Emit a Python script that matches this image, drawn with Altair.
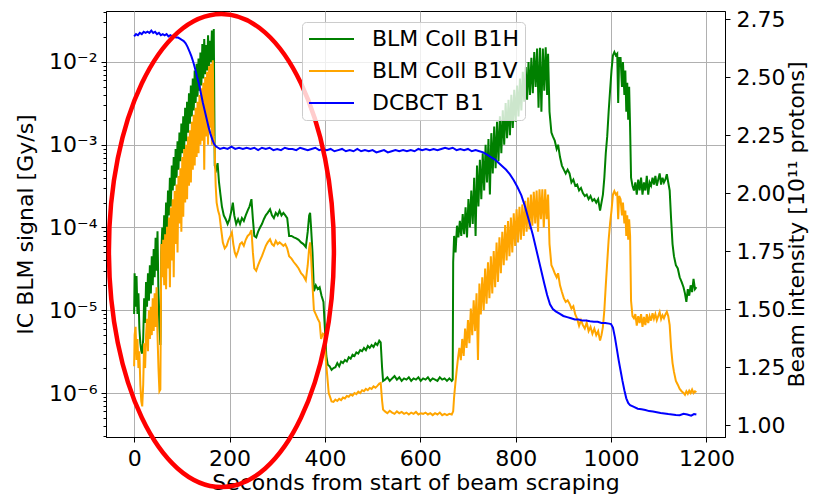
import altair as alt
import pandas as pd

FONT = "DejaVu Sans"

series_names = ["BLM Coll B1H", "BLM Coll B1V", "DCBCT B1"]
series_colors = ["#008000", "#ffa500", "#0000ff"]

x_ticks = [0, 200, 400, 600, 800, 1000, 1200]
left_major = [1e-6, 1e-5, 1e-4, 1e-3, 1e-2]
right_ticks = [1.00, 1.25, 1.50, 1.75, 2.00, 2.25, 2.50, 2.75]

x_domain = [-59, 1239]
left_domain = [2.94e-7, 4.13e-2]
right_domain = [0.9483, 2.7845]

# BLM Coll B1H  (time [s], signal [Gy/s])
blm_h = [
    (0, 9.0e-6), (1, 2.8e-5), (3, 1.1e-5), (5, 2.6e-5), (7, 9e-6), (9, 1.6e-5), (11, 6e-6), (13, 4e-6),
    (15, 3.2e-6), (17, 3.0e-6), (19, 4.5e-6), (21, 1.4e-5), (23, 7e-6), (25, 2.2e-5), (27, 1.1e-5),
    (29, 2.8e-5), (31, 1.3e-5), (33, 3.5e-5), (35, 1.6e-5), (37, 4.5e-5), (39, 2.0e-5), (41, 5.5e-5),
    (43, 2.5e-5), (45, 7.5e-5), (47, 3.0e-5), (49, 9e-5), (51, 1.5e-5), (53, 6e-6), (55, 3.8e-6),
    (57, 5.0e-5), (59, 1.0e-4), (61, 5.6e-5), (63, 1.4e-4), (65, 7.1e-5), (67, 2.0e-4), (69, 8.9e-5),
    (71, 2.8e-4), (73, 1.4e-4), (75, 4.0e-4), (77, 1.8e-4), (79, 5.6e-4), (81, 2.8e-4), (83, 7.1e-4),
    (85, 3.2e-4), (87, 8.9e-4), (89, 4.0e-4), (91, 1.1e-3), (93, 5.0e-4), (95, 1.4e-3), (97, 6.3e-4),
    (99, 1.8e-3), (101, 7.9e-4), (103, 2.2e-3), (105, 8.9e-4), (107, 2.8e-3), (109, 1.1e-3),
    (111, 3.3e-3), (113, 1.4e-3), (115, 4.2e-3), (117, 1.8e-3), (119, 5.2e-3), (121, 2.2e-3),
    (123, 6.3e-3), (125, 2.6e-3), (127, 7.9e-3), (129, 3.2e-3), (131, 9.5e-3), (133, 3.8e-3),
    (135, 1.1e-2), (137, 4.5e-3), (139, 1.3e-2), (141, 5.2e-3), (143, 1.65e-2), (145, 6.3e-3),
    (147, 1.9e-2), (149, 7.1e-3), (151, 1.6e-2), (153, 7.9e-3), (155, 2.1e-2), (157, 8.9e-3),
    (159, 1.8e-2), (161, 1.0e-2), (163, 2.4e-2), (165, 9.5e-3), (167, 2.5e-2),
    (169, 5.6e-4), (172, 5.0e-4), (175, 6.0e-4), (178, 3.5e-4), (181, 2.5e-4), (184, 1.8e-4),
    (188, 1.4e-4), (192, 1.26e-4), (196, 1.1e-4), (200, 1.26e-4), (204, 1.6e-4), (207, 2.0e-4),
    (210, 1.4e-4), (214, 1.1e-4), (218, 1.26e-4), (222, 1.1e-4), (226, 1.3e-4), (230, 1.2e-4),
    (234, 1.4e-4), (238, 1.6e-4), (242, 1.8e-4), (246, 2.2e-4), (249, 1.26e-4), (252, 7.9e-5),
    (256, 7.6e-5), (260, 8.9e-5), (264, 1.0e-4), (268, 1.1e-4), (272, 1.26e-4), (276, 1.4e-4),
    (280, 1.5e-4), (285, 1.66e-4), (289, 1.4e-4), (293, 1.3e-4), (297, 1.5e-4), (301, 1.4e-4),
    (305, 1.6e-4), (309, 1.4e-4), (313, 1.5e-4), (317, 1.4e-4), (321, 1.3e-4), (325, 7.9e-5),
    (330, 7.9e-5), (335, 7.6e-5), (340, 7.4e-5), (345, 7.1e-5), (350, 6.6e-5), (355, 6.3e-5),
    (360, 5.8e-5), (364, 8.9e-5), (367, 1.4e-4), (369, 1.5e-4), (371, 1.0e-4), (374, 5.0e-5),
    (377, 1.7e-5), (381, 2.0e-5), (385, 1.8e-5), (389, 1.9e-5), (393, 1.5e-5), (397, 1.26e-5),
    (400, 6.0e-6), (403, 2.8e-6), (406, 2.2e-6), (410, 2.1e-6), (414, 1.9e-6), (418, 2.0e-6),
    (422, 2.05e-6), (426, 2.3e-6), (430, 2.1e-6), (434, 2.4e-6), (438, 2.3e-6), (442, 2.5e-6),
    (446, 2.4e-6), (450, 2.7e-6), (454, 2.6e-6), (458, 2.9e-6), (462, 2.8e-6), (466, 3.1e-6),
    (470, 3.0e-6), (474, 3.3e-6), (478, 3.2e-6), (482, 3.5e-6), (486, 3.3e-6), (490, 3.7e-6),
    (494, 3.5e-6), (498, 3.8e-6), (502, 3.6e-6), (506, 4.0e-6), (510, 3.8e-6), (514, 4.3e-6),
    (517, 4.1e-6), (520, 2.0e-6), (522, 1.4e-6),
    (526, 1.45e-6), (531, 1.55e-6), (536, 1.4e-6), (541, 1.5e-6), (546, 1.6e-6), (551, 1.45e-6),
    (556, 1.55e-6), (561, 1.4e-6), (566, 1.5e-6), (571, 1.45e-6), (576, 1.55e-6), (581, 1.4e-6),
    (586, 1.5e-6), (591, 1.45e-6), (596, 1.55e-6), (601, 1.4e-6), (606, 1.5e-6), (611, 1.45e-6),
    (616, 1.55e-6), (621, 1.4e-6), (626, 1.5e-6), (631, 1.45e-6), (636, 1.4e-6), (641, 1.55e-6),
    (646, 1.45e-6), (651, 1.5e-6), (656, 1.4e-6), (661, 1.5e-6), (666, 1.4e-6), (668, 1.45e-6),
    (669, 3.8e-5), (671, 7.9e-5), (674, 5.0e-5), (677, 1.05e-4), (680, 7.6e-5), (683, 1.2e-4),
    (686, 7.9e-5), (689, 1.45e-4), (692, 8.3e-5), (695, 1.75e-4), (698, 7.6e-5), (701, 2.2e-4),
    (704, 1.0e-4), (707, 2.8e-4), (710, 1.1e-4), (713, 4.0e-4), (716, 7.9e-5), (719, 5.6e-4),
    (722, 1.8e-4), (725, 6.6e-4), (728, 2.2e-4), (731, 7.9e-4), (734, 2.8e-4), (737, 1.0e-3),
    (740, 3.5e-4), (743, 1.17e-3), (746, 2.5e-4), (749, 1.38e-3), (752, 4.5e-4), (755, 1.66e-3),
    (758, 5.2e-4), (761, 1.9e-3), (764, 6.3e-4), (767, 2.2e-3), (770, 7.9e-4), (773, 2.6e-3),
    (776, 1.0e-3), (779, 3.2e-3), (782, 1.2e-3), (785, 3.5e-3), (788, 1.3e-3), (791, 4.0e-3),
    (794, 1.6e-3), (797, 4.6e-3), (800, 1.9e-3), (803, 5.2e-3), (806, 2.2e-3), (809, 6.3e-3),
    (812, 2.6e-3), (815, 7.6e-3), (818, 3.3e-3), (821, 8.7e-3), (824, 3.5e-3), (827, 1.0e-2),
    (830, 4.0e-3), (833, 1.12e-2), (836, 4.2e-3), (839, 1.32e-2), (842, 5.0e-3), (845, 1.45e-2),
    (848, 2.8e-3), (851, 1.48e-2), (854, 2.5e-3), (857, 1.45e-2), (860, 4.5e-3), (863, 1.5e-2),
    (866, 4.0e-3), (868, 1.26e-2),
    (871, 2.5e-3), (875, 1.4e-3), (878, 1.26e-3), (882, 1.12e-3), (886, 8.9e-4), (889, 1.0e-3),
    (893, 7.1e-4), (897, 5.6e-4), (901, 5.0e-4), (905, 4.5e-4), (909, 5.0e-4), (913, 4.5e-4),
    (917, 3.5e-4), (921, 3.8e-4), (925, 3.2e-4), (929, 3.3e-4), (933, 2.8e-4), (937, 3.0e-4),
    (941, 2.6e-4), (945, 2.4e-4), (949, 2.5e-4), (953, 2.2e-4), (957, 2.4e-4), (961, 2.1e-4),
    (965, 2.2e-4), (969, 2.0e-4), (973, 2.2e-4), (977, 1.6e-4), (980, 2.0e-4), (983, 2.5e-4),
    (986, 4.0e-4), (989, 7.9e-4), (992, 1.26e-3), (995, 2.5e-3), (998, 4.5e-3), (1001, 7.9e-3),
    (1004, 1.2e-2), (1007, 1.32e-2), (1010, 1.2e-2), (1013, 1.26e-2), (1015, 3.2e-3), (1017, 1.12e-2),
    (1020, 1.12e-2), (1023, 5.0e-3), (1025, 1.0e-2), (1028, 4.0e-3), (1030, 7.9e-3), (1032, 2.5e-3),
    (1034, 5.6e-3), (1036, 2.0e-3), (1038, 5.0e-3), (1040, 1.6e-3), (1042, 4.0e-4), (1045, 3.2e-4),
    (1048, 2.8e-4), (1051, 3.5e-4), (1054, 2.5e-4), (1057, 3.8e-4), (1060, 2.8e-4), (1063, 4.0e-4),
    (1066, 2.5e-4), (1069, 3.5e-4), (1072, 2.8e-4), (1075, 4.2e-4), (1078, 2.5e-4), (1081, 3.5e-4),
    (1084, 3.2e-4), (1087, 4.0e-4), (1090, 3.3e-4), (1093, 4.2e-4), (1096, 3.2e-4), (1099, 3.8e-4),
    (1102, 4.5e-4), (1105, 3.3e-4), (1108, 4.0e-4), (1111, 3.5e-4), (1114, 3.8e-4), (1117, 4.4e-4),
    (1120, 3.5e-4), (1123, 2.8e-4), (1126, 1.26e-4), (1129, 6.3e-5), (1132, 4.5e-5), (1136, 3.5e-5),
    (1140, 3.2e-5), (1144, 2.5e-5), (1148, 2.2e-5), (1152, 1.9e-5), (1155, 1.6e-5), (1158, 1.26e-5),
    (1161, 1.8e-5), (1164, 1.5e-5), (1167, 2.0e-5), (1170, 1.66e-5), (1173, 2.4e-5), (1176, 1.8e-5),
    (1179, 1.9e-5),
]

# BLM Coll B1V  (time [s], signal [Gy/s])
blm_v = [
    (0, 2.1e-6), (1, 5.0e-6), (3, 6.3e-6), (5, 2.5e-6), (7, 4.5e-6), (9, 2.0e-6), (11, 3.2e-6),
    (13, 1.26e-6), (15, 7.9e-7), (17, 6.9e-7), (19, 1.26e-6), (21, 4.0e-6), (23, 2.0e-6), (25, 5.0e-6),
    (27, 7.9e-6), (29, 3.2e-6), (31, 1.0e-5), (33, 4.5e-6), (35, 1.1e-5), (37, 5.0e-6), (39, 1.4e-5),
    (41, 5.6e-6), (43, 1.6e-5), (45, 6.3e-6), (47, 1.9e-5), (49, 5.0e-6), (51, 2.0e-6), (53, 1.05e-6),
    (55, 1.1e-6),
    (57, 6.3e-5), (59, 2.5e-5), (61, 7.1e-5), (63, 2.0e-5), (65, 8.3e-5), (67, 1.8e-5), (69, 1.02e-4),
    (71, 3.2e-5), (73, 1.32e-4), (75, 1.9e-5), (77, 1.74e-4), (79, 4.0e-5), (81, 2.2e-4), (83, 2.5e-5),
    (85, 2.75e-4), (87, 6.3e-5), (89, 3.3e-4), (91, 5.0e-5), (93, 4.2e-4), (95, 1.12e-4), (97, 5.2e-4),
    (99, 8.9e-5), (101, 7.1e-4), (103, 1.35e-4), (105, 8.9e-4), (107, 2.0e-4), (109, 1.0e-3),
    (111, 2.2e-4), (113, 1.26e-3), (115, 3.2e-4), (117, 1.5e-3), (119, 3.5e-4), (121, 1.9e-3),
    (123, 5.0e-4), (125, 2.3e-3), (127, 5.6e-4), (129, 2.8e-3), (131, 7.1e-4), (133, 3.3e-3),
    (135, 7.9e-4), (137, 4.0e-3), (139, 1.0e-3), (141, 4.8e-3), (143, 1.12e-3), (145, 5.6e-3),
    (147, 5.0e-4), (149, 6.6e-3), (151, 1.26e-3), (153, 7.6e-3), (155, 1.0e-3), (157, 8.9e-3),
    (159, 1.6e-3), (161, 9.5e-3), (163, 1.0e-3), (165, 1.05e-2), (167, 1.26e-3), (169, 8.7e-4),
    (171, 3.2e-4), (173, 2.0e-4), (176, 1.6e-4), (179, 1.4e-4), (182, 1.0e-4), (186, 6.6e-5),
    (190, 5.6e-5), (194, 6.0e-5), (198, 7.1e-5), (202, 7.9e-5), (205, 8.7e-5), (208, 6.3e-5),
    (211, 5.0e-5), (214, 4.5e-5), (218, 5.2e-5), (222, 6.3e-5), (226, 6.6e-5), (230, 6.0e-5),
    (234, 7.1e-5), (238, 7.9e-5), (242, 8.3e-5), (246, 9.3e-5), (249, 5.0e-5), (252, 3.2e-5),
    (256, 3.0e-5), (260, 3.5e-5), (264, 4.0e-5), (268, 4.5e-5), (272, 5.2e-5), (276, 6.0e-5),
    (280, 6.6e-5), (285, 7.2e-5), (289, 6.3e-5), (293, 6.0e-5), (297, 6.9e-5), (301, 6.3e-5),
    (305, 6.6e-5), (309, 6.3e-5), (313, 6.0e-5), (317, 6.3e-5), (321, 5.6e-5), (325, 4.5e-5),
    (330, 4.2e-5), (335, 3.8e-5), (340, 3.5e-5), (345, 3.2e-5), (350, 2.8e-5), (355, 2.6e-5),
    (360, 2.3e-5), (364, 3.5e-5), (367, 5.6e-5), (369, 6.6e-5), (371, 4.5e-5), (374, 2.0e-5),
    (377, 1.0e-5), (381, 8.9e-6), (385, 7.9e-6), (389, 7.1e-6), (392, 4.5e-6), (396, 5.2e-6),
    (399, 5.0e-6), (402, 2.5e-6), (405, 1.6e-6), (408, 1.0e-6), (411, 8.9e-7), (414, 7.9e-7),
    (418, 7.8e-7), (422, 8.3e-7), (426, 8.0e-7), (430, 8.5e-7), (434, 8.2e-7), (438, 8.8e-7),
    (442, 8.6e-7), (446, 9.2e-7), (450, 9.0e-7), (454, 9.6e-7), (458, 9.3e-7), (462, 1.0e-6),
    (466, 9.7e-7), (470, 1.04e-6), (474, 1.0e-6), (478, 1.08e-6), (482, 1.05e-6), (486, 1.12e-6),
    (490, 1.08e-6), (494, 1.15e-6), (498, 1.12e-6), (502, 1.2e-6), (506, 1.16e-6), (510, 1.22e-6),
    (514, 1.3e-6), (517, 1.32e-6), (520, 8.0e-7), (522, 6.3e-7),
    (526, 6.0e-7), (531, 5.7e-7), (536, 6.1e-7), (541, 5.8e-7), (546, 5.6e-7), (551, 6.0e-7),
    (556, 5.7e-7), (561, 5.9e-7), (566, 5.6e-7), (571, 5.8e-7), (576, 5.5e-7), (581, 5.8e-7),
    (586, 5.6e-7), (591, 5.9e-7), (596, 5.5e-7), (601, 5.7e-7), (606, 5.6e-7), (611, 5.8e-7),
    (616, 5.5e-7), (621, 5.7e-7), (626, 5.4e-7), (631, 5.7e-7), (636, 5.5e-7), (641, 5.8e-7),
    (646, 5.4e-7), (651, 5.6e-7), (656, 5.4e-7), (661, 5.6e-7), (666, 5.5e-7), (669, 6.0e-7),
    (671, 9.0e-7), (673, 1.2e-6), (676, 1.8e-6), (679, 2.6e-6), (682, 3.5e-6), (685, 2.5e-6),
    (688, 4.5e-6), (691, 2.8e-6), (694, 6.0e-6), (697, 3.5e-6), (700, 7.6e-6), (703, 4.0e-6),
    (706, 1.05e-5), (709, 5.0e-6), (712, 1.32e-5), (715, 5.6e-6), (718, 1.6e-5), (721, 2.5e-6),
    (724, 2.1e-5), (727, 8.9e-6), (730, 2.5e-5), (733, 1.0e-5), (736, 3.2e-5), (739, 1.2e-5),
    (742, 3.8e-5), (745, 1.4e-5), (748, 4.5e-5), (751, 1.6e-5), (754, 5.2e-5), (757, 1.9e-5),
    (760, 6.6e-5), (763, 2.2e-5), (766, 7.6e-5), (769, 2.8e-5), (772, 8.9e-5), (775, 3.5e-5),
    (778, 1.07e-4), (781, 4.0e-5), (784, 1.2e-4), (787, 4.5e-5), (790, 1.32e-4), (793, 5.0e-5),
    (796, 1.48e-4), (799, 6.0e-5), (802, 1.66e-4), (805, 6.6e-5), (808, 1.78e-4), (811, 7.1e-5),
    (814, 1.9e-4), (817, 7.9e-5), (820, 2.1e-4), (823, 8.9e-5), (826, 2.3e-4), (829, 9.5e-5),
    (832, 2.5e-4), (835, 1.05e-4), (838, 2.7e-4), (841, 1.12e-4), (844, 2.8e-4), (847, 8.9e-5),
    (850, 2.9e-4), (853, 1.26e-4), (856, 2.9e-4), (859, 1.0e-4), (862, 2.9e-4), (865, 1.26e-4),
    (868, 2.5e-4),
    (871, 6.3e-5), (875, 3.5e-5), (878, 3.2e-5), (882, 2.8e-5), (886, 2.5e-5), (889, 2.8e-5),
    (893, 2.0e-5), (897, 1.66e-5), (901, 1.4e-5), (905, 1.26e-5), (909, 1.32e-5), (913, 1.2e-5),
    (917, 1.05e-5), (921, 1.12e-5), (925, 8.9e-6), (929, 7.9e-6), (933, 6.5e-6), (937, 7.6e-6),
    (941, 6.6e-6), (945, 6.0e-6), (949, 7.1e-6), (953, 5.6e-6), (957, 6.3e-6), (961, 5.2e-6),
    (965, 6.0e-6), (969, 5.0e-6), (973, 5.6e-6), (977, 4.3e-6), (980, 5.0e-6), (983, 6.3e-6),
    (986, 1.0e-5), (989, 2.0e-5), (992, 3.8e-5), (995, 7.1e-5), (998, 1.12e-4), (1001, 1.6e-4),
    (1004, 2.5e-4), (1007, 2.75e-4), (1010, 2.5e-4), (1013, 2.6e-4), (1015, 1.26e-4), (1017, 2.4e-4),
    (1020, 2.2e-4), (1023, 1.4e-4), (1025, 2.0e-4), (1028, 1.12e-4), (1030, 1.6e-4), (1032, 7.9e-5),
    (1034, 1.4e-4), (1036, 7.1e-5), (1038, 1.26e-4), (1040, 7.9e-5),
    (1042, 1.3e-5), (1045, 8.5e-6), (1048, 8.0e-6), (1051, 9.0e-6), (1054, 6.5e-6), (1057, 8.5e-6),
    (1060, 7.0e-6), (1063, 9.0e-6), (1066, 6.3e-6), (1069, 8.3e-6), (1072, 6.6e-6), (1075, 9.0e-6),
    (1078, 7.0e-6), (1081, 8.5e-6), (1084, 7.5e-6), (1087, 9.2e-6), (1090, 7.9e-6), (1093, 9.0e-6),
    (1096, 7.6e-6), (1099, 8.5e-6), (1102, 9.5e-6), (1105, 7.8e-6), (1108, 8.7e-6), (1111, 8.0e-6),
    (1114, 8.9e-6), (1117, 9.6e-6), (1120, 8.5e-6), (1123, 6.6e-6), (1126, 3.5e-6), (1129, 2.3e-6),
    (1132, 1.8e-6), (1136, 1.4e-6), (1140, 1.26e-6), (1144, 1.12e-6), (1148, 1.05e-6), (1152, 1.0e-6),
    (1155, 9.5e-7), (1158, 1.05e-6), (1161, 9.8e-7), (1164, 1.07e-6), (1167, 1.0e-6), (1170, 1.1e-6),
    (1173, 1.0e-6), (1176, 1.05e-6), (1179, 1.02e-6),
]

# DCBCT B1  (time [s], intensity [1e11 protons])
dcbct = [
    (0, 2.675), (4, 2.685), (8, 2.68), (12, 2.69), (16, 2.685), (20, 2.695), (24, 2.69), (28, 2.695),
    (32, 2.69), (36, 2.70), (40, 2.69), (44, 2.695), (48, 2.685), (52, 2.69), (56, 2.68), (60, 2.685),
    (64, 2.68), (68, 2.685), (72, 2.675), (76, 2.68), (80, 2.675), (84, 2.675), (88, 2.67), (92, 2.67),
    (96, 2.665), (100, 2.66), (104, 2.655), (108, 2.645), (112, 2.63), (116, 2.61), (120, 2.59),
    (124, 2.565), (128, 2.535), (132, 2.50), (136, 2.47), (140, 2.43), (144, 2.39), (148, 2.355),
    (152, 2.32), (156, 2.285), (160, 2.255), (164, 2.23), (168, 2.21), (172, 2.20), (176, 2.195),
    (180, 2.19), (188, 2.195), (196, 2.19), (204, 2.20), (212, 2.19), (220, 2.195), (228, 2.19),
    (236, 2.195), (244, 2.19), (252, 2.195), (260, 2.185), (268, 2.195), (276, 2.19), (284, 2.195),
    (292, 2.185), (300, 2.19), (308, 2.185), (316, 2.195), (324, 2.19), (332, 2.19), (340, 2.185),
    (348, 2.195), (356, 2.19), (364, 2.185), (372, 2.19), (380, 2.195), (388, 2.185), (396, 2.19),
    (404, 2.185), (412, 2.19), (420, 2.18), (428, 2.185), (436, 2.19), (444, 2.18), (452, 2.185),
    (460, 2.18), (468, 2.19), (476, 2.18), (484, 2.185), (492, 2.18), (500, 2.185), (508, 2.175),
    (516, 2.18), (524, 2.185), (532, 2.175), (540, 2.18), (548, 2.185), (556, 2.18), (564, 2.185),
    (572, 2.18), (580, 2.185), (588, 2.18), (596, 2.19), (604, 2.185), (612, 2.19), (620, 2.185),
    (628, 2.19), (636, 2.185), (644, 2.19), (652, 2.195), (660, 2.19), (668, 2.195), (676, 2.185),
    (684, 2.19), (692, 2.185), (700, 2.19), (708, 2.18), (716, 2.185), (724, 2.18), (732, 2.175),
    (740, 2.165), (748, 2.155), (756, 2.145), (764, 2.13), (772, 2.115), (780, 2.10), (788, 2.08),
    (796, 2.055), (804, 2.025), (812, 1.99), (820, 1.94), (828, 1.88), (836, 1.82), (844, 1.75),
    (852, 1.68), (860, 1.61), (866, 1.56), (872, 1.52), (878, 1.50), (884, 1.49), (892, 1.48),
    (900, 1.47), (908, 1.465), (916, 1.46), (924, 1.455), (932, 1.455), (940, 1.45), (948, 1.45),
    (956, 1.447), (964, 1.445), (972, 1.445), (980, 1.44), (988, 1.44), (996, 1.437), (1000, 1.435),
    (1004, 1.42), (1008, 1.38), (1012, 1.33), (1016, 1.28), (1020, 1.235), (1024, 1.19),
    (1028, 1.15), (1032, 1.115), (1036, 1.095), (1040, 1.085), (1048, 1.078), (1056, 1.07),
    (1064, 1.068), (1072, 1.065), (1080, 1.06), (1088, 1.058), (1096, 1.055), (1104, 1.052),
    (1112, 1.05), (1120, 1.047), (1128, 1.045), (1136, 1.043), (1144, 1.042), (1152, 1.048),
    (1160, 1.045), (1168, 1.04), (1174, 1.047), (1179, 1.045),
]

# red annotation ellipse: centre (time, intensity units)
ellipse_center = [(183, 1.752)]
ELLIPSE_PATH = ("M0,-1 C0.2627,-1 0.4757,-0.5523 0.4757,0 C0.4757,0.5523 0.2627,1 0,1 "
                "C-0.2627,1 -0.4757,0.5523 -0.4757,0 C-0.4757,-0.5523 -0.2627,-1 0,-1 Z")

minor = [m * 10.0 ** e for e in range(-7, -1) for m in range(2, 10)]
left_ticks = sorted(v for v in left_major + minor if left_domain[0] <= v <= left_domain[1])

df_h = pd.DataFrame({"t": [p[0] for p in blm_h], "signal": [p[1] for p in blm_h], "series": series_names[0]})
df_v = pd.DataFrame({"t": [p[0] for p in blm_v], "signal": [p[1] for p in blm_v], "series": series_names[1]})
df_b = pd.DataFrame({"t": [p[0] for p in dcbct], "intensity": [p[1] for p in dcbct], "series": series_names[2]})
df_e = pd.DataFrame({"t": [p[0] for p in ellipse_center], "intensity": [p[1] for p in ellipse_center]})

E = "round(log(datum.value)/LN10)"
MAJOR = f"abs(log(datum.value)/LN10 - {E}) < 0.01"
LABEL = (f"{MAJOR} ? ({E} == -2 ? '10⁻²' : {E} == -3 ? '10⁻³' : {E} == -4 ? '10⁻⁴' : "
         f"{E} == -5 ? '10⁻⁵' : '10⁻⁶') : ''")

x_scale = alt.Scale(domain=x_domain, nice=False, zero=False)
x_axis = alt.Axis(values=x_ticks, format="d", title="Seconds from start of beam scraping", grid=True,
                  tickSize=5, labelPadding=6, titlePadding=3, labelFlush=False)
x_enc = alt.X("t:Q", scale=x_scale, axis=x_axis)

color = alt.Color("series:N", scale=alt.Scale(domain=series_names, range=series_colors),
                  legend=alt.Legend(title=None))

left_scale = alt.Scale(type="log", domain=left_domain, nice=False)
left_axis = alt.Axis(values=left_ticks, orient="left", title="IC BLM signal [Gy/s]",
                     labelExpr=LABEL, labelOverlap=False, labelFlush=False,
                     tickSize={"condition": {"test": MAJOR, "value": 5}, "value": 3},
                     gridOpacity={"condition": {"test": MAJOR, "value": 1}, "value": 0},
                     grid=True, labelPadding=4, titlePadding=11)
y_left = alt.Y("signal:Q", scale=left_scale, axis=left_axis)

right_scale = alt.Scale(domain=right_domain, nice=False, zero=False)
right_axis = alt.Axis(values=right_ticks, orient="right", format=".2f", grid=False,
                      title="Beam intensity [10¹¹ protons]", titleAngle=270, titleBaseline="top",
                      tickSize=5, labelPadding=6, titlePadding=2, labelFlush=False)
y_right = alt.Y("intensity:Q", scale=right_scale, axis=right_axis)

green = alt.Chart(df_h).mark_line(strokeWidth=2).encode(x=x_enc, y=y_left, color=color)
orange = alt.Chart(df_v).mark_line(strokeWidth=2).encode(x=x_enc, y=y_left, color=color)
blue = alt.Chart(df_b).mark_line(strokeWidth=2).encode(x=x_enc, y=y_right, color=color)
ellipse = alt.Chart(df_e).mark_point(shape=ELLIPSE_PATH, size=473 ** 2, filled=False,
                                     color="#ff0000", strokeWidth=4.5, opacity=1).encode(
    x=x_enc, y=y_right)

left_group = alt.layer(green, orange)
right_group = alt.layer(blue, ellipse)

chart = alt.layer(left_group, right_group).resolve_scale(y="independent").properties(
    width=619, height=426,
    autosize=alt.AutoSizeParams(type="none"),
    padding={"left": 98, "top": 3, "right": 85, "bottom": 59},
).configure_axis(
    labelFont=FONT, titleFont=FONT, labelFontSize=22, titleFontSize=22,
    titleFontWeight="normal", labelColor="black", titleColor="black",
    domainColor="black", tickColor="black", gridColor="#b0b0b0", gridWidth=1,
).configure_view(stroke="black", strokeWidth=1).configure_legend(
    orient="none", legendX=196, legendY=11, labelFont=FONT, labelFontSize=22,
    labelColor="black", symbolType="stroke", symbolSize=2025, symbolStrokeWidth=2,
    clipHeight=22, rowPadding=10, padding=6, labelOffset=17, labelLimit=400,
    fillColor="rgba(255,255,255,0.8)", strokeColor="#cccccc", cornerRadius=4,
)

chart.save("out.html", embed_options={"renderer": "svg", "actions": False})
